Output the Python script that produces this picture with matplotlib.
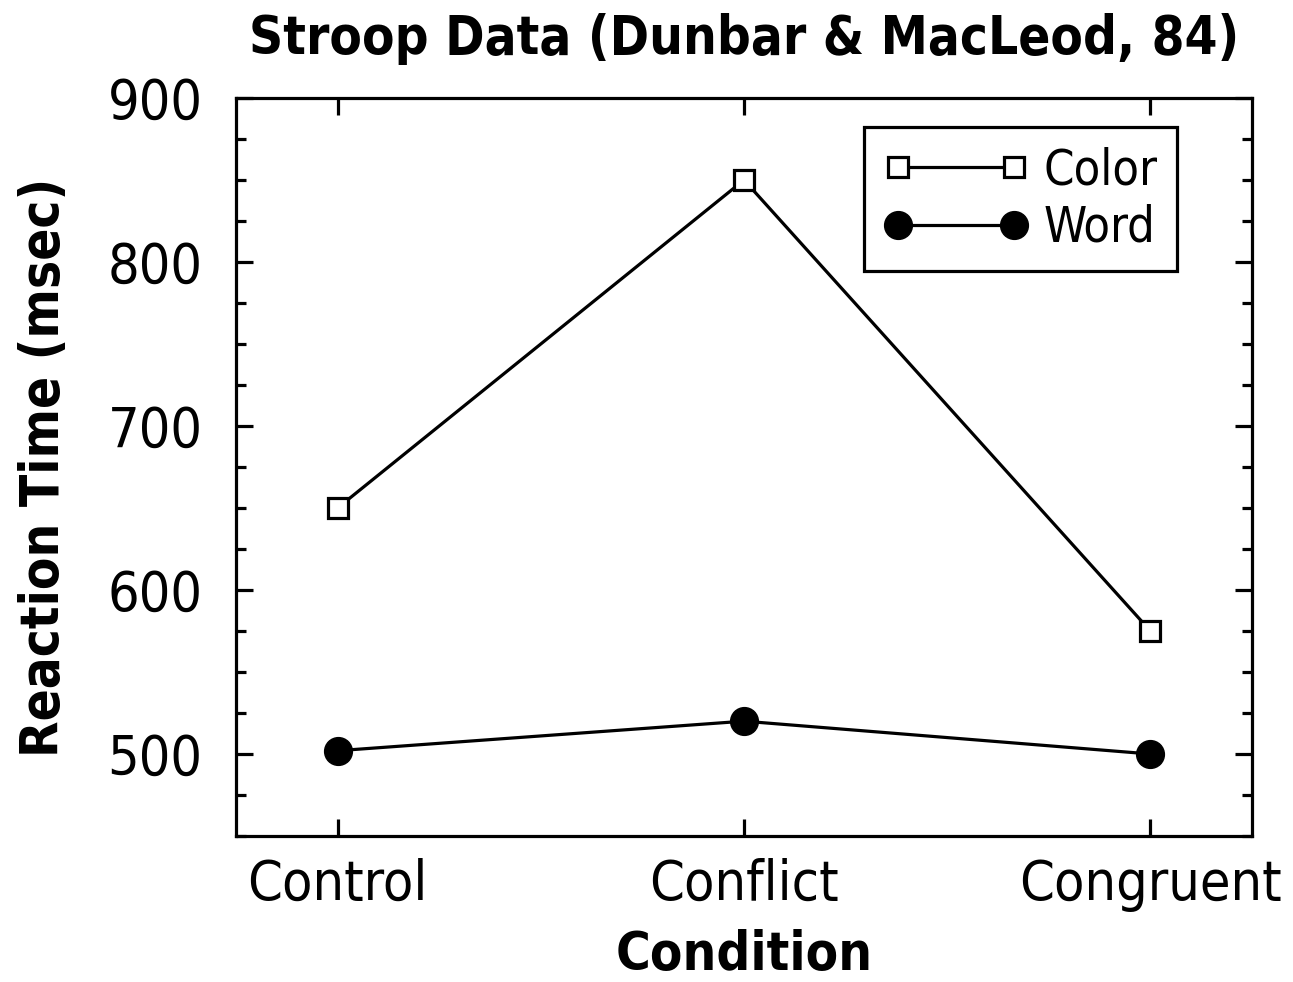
import matplotlib
matplotlib.use("Agg")
import matplotlib.pyplot as plt
from matplotlib.ticker import MultipleLocator

conditions = ["Control", "Conflict", "Congruent"]
color_rt = [650, 850, 575]
word_rt = [502, 520, 500]

plt.rcParams['font.family'] = ['DejaVu Sans']
plt.rcParams['font.stretch'] = 'condensed'

fig = plt.figure(figsize=(12.93, 9.82), dpi=100)
ax = fig.add_axes([0.1825, 0.1487, 0.7858, 0.7515])

x = list(range(len(conditions)))
ax.plot(x, color_rt, color='black', lw=2.3, marker='s', ms=15,
        mfc='white', mec='black', mew=2.3, label='Color')
ax.plot(x, word_rt, color='black', lw=2.3, marker='o', ms=20,
        mfc='black', mec='black', label='Word')

ax.set_xlim(-0.25, 2.25)
ax.set_ylim(450, 900)
ax.set_xticks(x)
ax.set_xticklabels(conditions)
ax.yaxis.set_major_locator(MultipleLocator(100))
ax.yaxis.set_minor_locator(MultipleLocator(25))

for s in ax.spines.values():
    s.set_linewidth(2.3)
ax.tick_params(axis='both', which='major', direction='in', length=12, width=2.3,
               top=True, right=True, labelsize=40)
ax.tick_params(axis='y', which='major', pad=24)
ax.tick_params(axis='x', which='major', pad=16)
ax.tick_params(axis='y', which='minor', direction='in', length=7, width=2.3,
               right=True, left=True)

ax.set_title("Stroop Data (Dunbar & MacLeod, 84)", fontsize=38, fontweight='bold',
             pad=32)
ax.set_xlabel("Condition", fontsize=38, fontweight='bold', labelpad=12)
ax.set_ylabel("Reaction Time (msec)", fontsize=38, fontweight='bold', labelpad=27)

leg = ax.legend(loc='upper right', bbox_to_anchor=(0.926, 0.961), fontsize=35,
                numpoints=2, fancybox=False, framealpha=1, edgecolor='black',
                handlelength=3.0, handletextpad=0.3, borderpad=0.4,
                labelspacing=0.2, borderaxespad=0)
leg.get_frame().set_linewidth(2.3)

fig.savefig("out.png", dpi=100)
